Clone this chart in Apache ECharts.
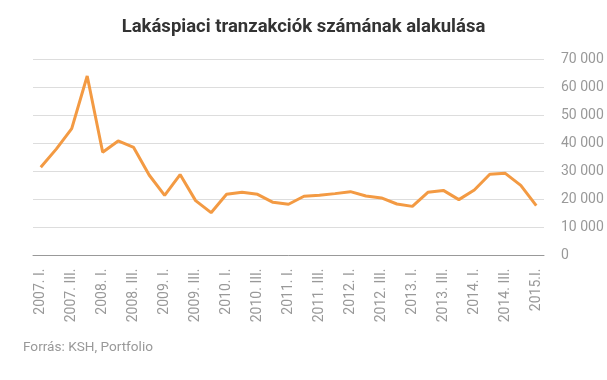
<!DOCTYPE html>
<html><head><meta charset="utf-8">
<script src="https://cdn.jsdelivr.net/npm/echarts@6/dist/echarts.min.js"></script>
<style>html,body{margin:0;padding:0;background:#fff}#c{width:607px;height:380px}</style>
</head><body><div id="c"></div>
<script>
const years = [2007,2008,2009,2010,2011,2012,2013,2014];
const quarters = ["I.","II.","III.","IV."];
const categories = [];
years.forEach(y => quarters.forEach(q => categories.push(y + ". " + q)));
categories.push("2015.I.");
const transactions = [31500,38000,45300,64100,36850,40900,38600,28750,21500,28900,19600,15300,21850,22550,21850,19000,18300,21150,21500,22100,22800,21250,20550,18400,17550,22550,23250,19950,23400,29000,29350,25050,17800];
const yTicks = [0,10000,20000,30000,40000,50000,60000,70000];

const chart = echarts.init(document.getElementById('c'));
chart.setOption({
  animation:false,
  title:{text:"Lakáspiaci tranzakciók számának alakulása",left:'center',top:13,
    textStyle:{fontFamily:'Roboto',fontWeight:'bold',fontSize:18.5,color:'#333'}},
  graphic:[{type:'text',left:23,top:341,style:{text:'Forrás: KSH, Portfolio',font:'13.6px Roboto',fill:'#999'}}],
  grid:{left:33,right:63,top:59.5,bottom:124.5,containLabel:false},
  xAxis:{type:'category',data:categories,boundaryGap:true,
    axisLine:{lineStyle:{color:'#999',width:1}},axisTick:{show:false},
    axisLabel:{interval:1,rotate:90,color:'#999',fontFamily:'Roboto',fontSize:14,margin:13}},
  yAxis:{type:'value',position:'right',min:yTicks[0],max:yTicks[yTicks.length-1],interval:10000,
    axisLine:{show:false},axisTick:{show:false},
    splitLine:{lineStyle:{color:'#ddd'}},
    axisLabel:{color:'#999',fontFamily:'Roboto',fontSize:14,margin:17,
      formatter:v=>String(v).replace(/\B(?=(\d{3})+(?!\d))/g,' ')}},
  series:[{type:'line',data:transactions,symbol:'none',lineStyle:{color:'#F39A43',width:3},itemStyle:{color:'#F39A43'}}]
});
</script></body></html>
